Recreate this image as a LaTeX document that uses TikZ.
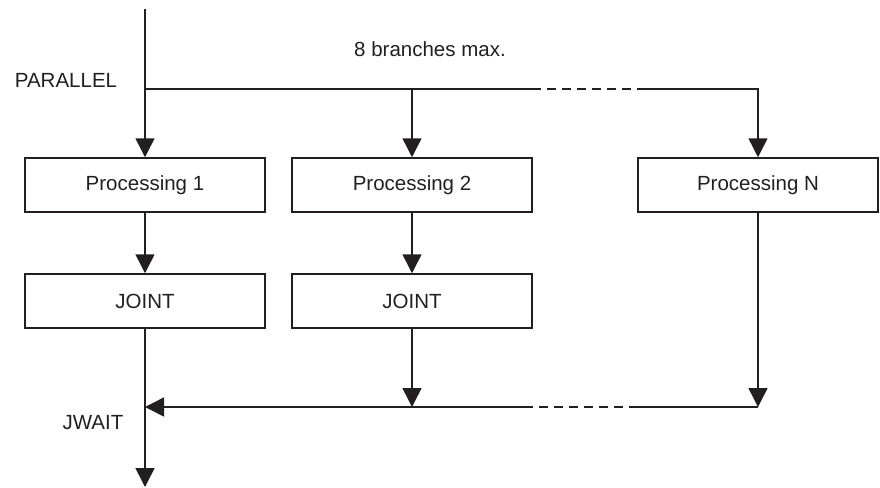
\documentclass[tikz,border=0pt]{standalone}
\usepackage{fontspec}
\setmainfont{Liberation Sans}
\usetikzlibrary{arrows.meta}
\definecolor{ink}{HTML}{231F20}
\begin{document}
\begin{tikzpicture}[x=1pt,y=-1pt,
  every node/.style={font=\fontsize{20.5}{24}\selectfont, text=ink},
  procbox/.style={draw=ink, line width=1.5pt, minimum width=240pt, minimum height=54pt, inner sep=0pt},
  flow/.style={draw=ink, line width=1.5pt},
  tip/.style={-{Triangle[length=19pt,width=19pt]}},
  dashline/.style={draw=ink, line width=1.5pt, dash pattern=on 9pt off 6pt}]
\useasboundingbox (0,0) rectangle (880,487);
% boxes
\node[procbox] (p1) at (145,185) {Processing 1};
\node[procbox] (p2) at (412,185) {Processing 2};
\node[procbox] (pN) at (758,185) {Processing N};
\node[procbox] (j1) at (145,301) {JOINT};
\node[procbox] (j2) at (412,301) {JOINT};
% labels
\node (lbranches) at (430,49) {8 branches max.};
\node (lpar) at (66,80) {PARALLEL};
\node (ljwait) at (93,423) {JWAIT};
% coordinates
\coordinate (top) at (145,9);
\coordinate (split) at (145,89);
\coordinate (s2) at (412,89);
\coordinate (da) at (532,89);
\coordinate (db) at (638,89);
\coordinate (sN) at (758,89);
\coordinate (join) at (145,407);
\coordinate (m2) at (412,407);
\coordinate (dc) at (532,407);
\coordinate (dd) at (638,407);
\coordinate (mN) at (758,407);
\coordinate (bottom) at (145,487);
% top flow
\draw[flow, tip] (top) -- (p1.north);
\draw[flow] (split) -- (da);
\draw[dashline] (da) -- (db);
\draw[flow, tip] (db) -- (sN) -- (pN.north);
\draw[flow, tip] (s2) -- (p2.north);
% middle
\draw[flow, tip] (p1.south) -- (j1.north);
\draw[flow, tip] (p2.south) -- (j2.north);
% bottom
\draw[flow, tip] (j1.south) -- (bottom);
\draw[flow, tip] (j2.south) -- (m2);
\draw[flow, tip] (pN.south) -- (mN);
\draw[flow] (mN) -- (dd);
\draw[dashline] (dd) -- (dc);
\draw[flow, tip] (dc) -- (join);
\end{tikzpicture}
\end{document}
